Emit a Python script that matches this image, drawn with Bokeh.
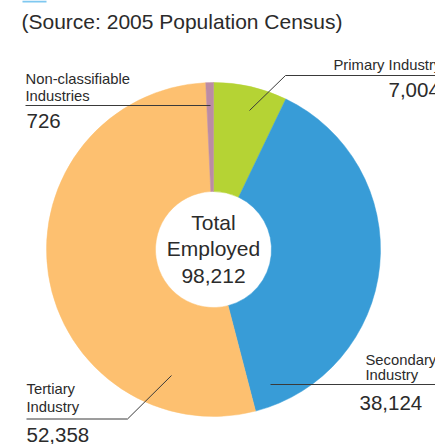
import math
from bokeh.plotting import figure
from bokeh.models import Range1d
from bokeh.core.properties import value
from bokeh.embed import file_html
from bokeh.resources import INLINE

# ---- data ----
categories = ["Primary Industry", "Secondary Industry", "Tertiary Industry", "Non-classifiable Industries"]
values = [7004, 38124, 52358, 726]
colors = ["#B5D334", "#389CD7", "#FDC070", "#BC8CA4"]
total_label = ["Total", "Employed"]
source_text = "(Source: 2005 Population Census)"

total = sum(values)

W, H = 435, 444
p = figure(width=W, height=H, x_range=Range1d(0, W), y_range=Range1d(0, H),
           x_axis_type=None, y_axis_type=None, toolbar_location=None,
           output_backend="svg", min_border=0)
p.grid.visible = False
p.outline_line_color = None
p.background_fill_color = "white"
p.border_fill_color = "white"

def Y(py):
    return H - py

FONT = value("Liberation Sans")
TXT = "#2b2b2b"
SMALL = "14.8px"
BIG = "20.5px"
BL = "middle"

# pie geometry (page pixels)
cx, cy = 213, 249
r_out, r_in = 167, 58

starts, ends = [], []
cum = 0
for v in values:
    starts.append(math.pi / 2 - 2 * math.pi * cum / total)
    cum += v
    ends.append(math.pi / 2 - 2 * math.pi * cum / total)

p.annular_wedge(x=[cx] * len(values), y=[Y(cy)] * len(values), inner_radius=r_in, outer_radius=r_out,
                start_angle=starts, end_angle=ends, direction="clock",
                fill_color=colors, line_color=colors, line_width=0.5)

# centre text
p.text(x=[cx, cx, cx], y=[Y(221.5), Y(248), Y(275)],
       text=total_label + [f"{total:,}"], text_align="center", text_baseline=BL,
       text_font=FONT, text_font_size="21px", text_color=TXT)

# source text
p.text(x=[21], y=[Y(21)], text=[source_text], text_font=FONT, text_font_size="21px",
       text_color=TXT, text_baseline=BL)

# small blue remnant of heading at top-left
p.quad(left=[22], right=[46], top=[Y(0)], bottom=[Y(2)], fill_color="#7FC8F0", line_color=None)

LC = "#3a3a3a"
# Non-classifiable label
p.text(x=[25, 25], y=[Y(78), Y(95.5)], text=["Non-classifiable", "Industries"], text_font=FONT,
       text_font_size=SMALL, text_color=TXT, text_baseline=BL)
p.line(x=[25, 210], y=[Y(105), Y(105)], line_color=LC, line_width=1)
p.text(x=[26], y=[Y(120.5)], text=[f"{values[3]:,}"], text_font=FONT, text_font_size=BIG,
       text_color=TXT, text_baseline=BL)

# Primary label
p.text(x=[333], y=[Y(64.5)], text=["Primary Industry"], text_font=FONT,
       text_font_size=SMALL, text_color=TXT, text_baseline=BL)
p.line(x=[249, 285, 440], y=[Y(110), Y(75), Y(75)], line_color=LC, line_width=1)
p.text(x=[388], y=[Y(89.5)], text=[f"{values[0]:,}"], text_font=FONT, text_font_size=BIG,
       text_color=TXT, text_baseline=BL)

# Secondary label
p.text(x=[365, 365], y=[Y(359.5), Y(374.5)], text=["Secondary", "Industry"], text_font=FONT,
       text_font_size=SMALL, text_color=TXT, text_baseline=BL)
p.line(x=[270, 440], y=[Y(384), Y(384)], line_color=LC, line_width=1)
p.text(x=[359], y=[Y(402.5)], text=[f"{values[1]:,}"], text_font=FONT, text_font_size=BIG,
       text_color=TXT, text_baseline=BL)

# Tertiary label
p.text(x=[26, 26], y=[Y(388.5), Y(406)], text=["Tertiary", "Industry"], text_font=FONT,
       text_font_size=SMALL, text_color=TXT, text_baseline=BL)
p.line(x=[26, 127, 171], y=[Y(418.5), Y(418.5), Y(375)], line_color=LC, line_width=1)
p.text(x=[26], y=[Y(434.5)], text=[f"{values[2]:,}"], text_font=FONT, text_font_size=BIG,
       text_color=TXT, text_baseline=BL)

open("out.html", "w").write(file_html(p, INLINE))
